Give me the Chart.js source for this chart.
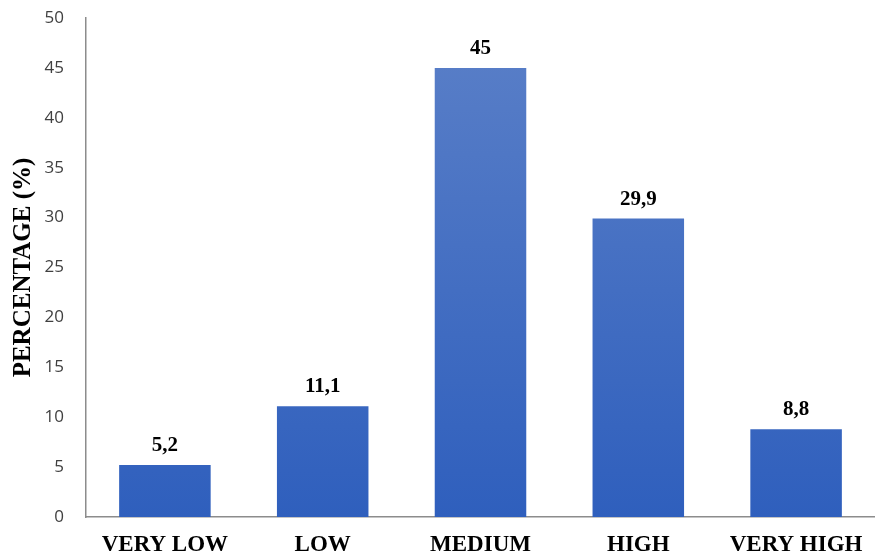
<!DOCTYPE html>
<html>
<head>
<meta charset="utf-8">
<script src="https://cdn.jsdelivr.net/npm/chart.js@4.4.1/dist/chart.umd.min.js"></script>
<style>
  html, body { margin: 0; padding: 0; background: #ffffff; }
  #wrap { width: 875px; height: 558px; position: relative; }
</style>
</head>
<body>
<div id="wrap"><canvas id="chart" width="875" height="558"></canvas></div>
<script>
const categories = ['VERY LOW', 'LOW', 'MEDIUM', 'HIGH', 'VERY HIGH'];
const percentages = [5.2, 11.1, 45, 29.9, 8.8];
const valueLabels = ['5,2', '11,1', '45', '29,9', '8,8'];
const yTicks = [0, 5, 10, 15, 20, 25, 30, 35, 40, 45, 50];

const serifFamily = '"Liberation Serif", "Times New Roman", serif';

// Writes the value above each bar
const barValuePlugin = {
  id: 'barValues',
  afterDatasetsDraw(chart) {
    const ctx = chart.ctx;
    const meta = chart.getDatasetMeta(0);
    ctx.save();
    ctx.font = 'bold 21px ' + serifFamily;
    ctx.fillStyle = '#000000';
    ctx.textAlign = 'center';
    ctx.textBaseline = 'alphabetic';
    meta.data.forEach((bar, i) => {
      ctx.fillText(valueLabels[i], bar.x, bar.y - 14);
    });
    ctx.restore();
  }
};

function barGradient(context) {
  const chart = context.chart;
  const area = chart.chartArea;
  if (!area) return '#4472c4';
  const bar = context.element;
  const top = bar && bar.y !== undefined ? bar.y : area.top;
  const g = chart.ctx.createLinearGradient(0, top, 0, area.bottom);
  g.addColorStop(0, '#5b80c8');
  g.addColorStop(1, '#2f5fbd');
  return g;
}

new Chart(document.getElementById('chart'), {
  type: 'bar',
  data: {
    labels: categories,
    datasets: [{
      data: percentages,
      backgroundColor: barGradient,
      borderWidth: 0,
      categoryPercentage: 1.0,
      barPercentage: 0.58
    }]
  },
  options: {
    responsive: false,
    animation: false,
    layout: { padding: { top: 18, right: 0, bottom: 0, left: 0 } },
    plugins: {
      legend: { display: false },
      tooltip: { enabled: false }
    },
    scales: {
      x: {
        grid: { display: false, drawTicks: false },
        border: { display: true, color: '#8c8c8c', width: 1.5 },
        ticks: {
          color: '#000000',
          font: { family: serifFamily, size: 23, weight: 'bold' },
          padding: 14,
          maxRotation: 0
        },
        afterFit(scale) {
          scale.height = 41;
          scale.paddingLeft = 0;
          scale.paddingRight = 0;
        }
      },
      y: {
        min: 0,
        max: 50,
        afterBuildTicks(scale) { scale.ticks = yTicks.map(v => ({ value: v })); },
        grid: { display: false, drawTicks: false },
        border: { display: true, color: '#8c8c8c', width: 1.5 },
        ticks: {
          color: '#404040',
          font: { family: '"Open Sans", "Liberation Sans", sans-serif', size: 17 },
          padding: 22
        },
        title: {
          display: true,
          text: 'PERCENTAGE (%)',
          color: '#000000',
          font: { family: serifFamily, size: 25, weight: 'bold' },
          padding: { top: 9, bottom: 0 }
        },
        afterFit(scale) {
          scale.width = 86;
          scale.paddingTop = 0;
          scale.paddingBottom = 0;
        }
      }
    }
  },
  plugins: [barValuePlugin]
});
</script>
</body>
</html>
